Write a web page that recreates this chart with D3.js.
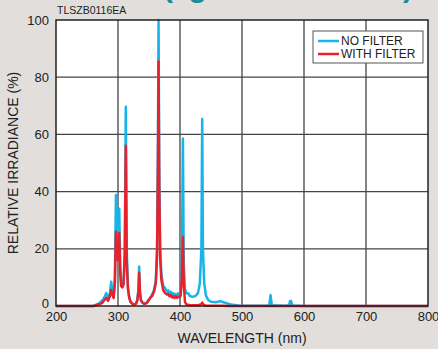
<!DOCTYPE html>
<html>
<head>
<meta charset="utf-8">
<script src="https://cdn.jsdelivr.net/npm/d3@7"></script>
<style>
  html, body { margin: 0; padding: 0; background: #e1dedb; }
  #chart { width: 438px; height: 349px; }
  text { font-family: "Liberation Sans", Arial, sans-serif; fill: #222; }
</style>
</head>
<body>
<div id="chart"></div>
<script>
// Spectrum samples (nm / % relative irradiance)
const wavelengths = [200, 260, 265, 270, 275, 278, 281, 284, 287, 289, 291, 293, 295, 296.7, 298, 300, 302, 303.5, 305, 307, 309, 311, 312.6, 314, 316, 318, 320, 323, 326, 329, 331, 333, 334.1, 335.5, 337, 340, 343, 346, 349, 352, 355, 358, 361, 363, 364.5, 365.4, 366.5, 368, 370, 373, 376, 379, 381, 383, 385, 387, 389, 391, 393, 395, 397, 399, 401, 403, 404.7, 406, 408, 410, 413, 416, 420, 425, 429, 432, 434.5, 435.8, 437, 439, 442, 446, 450, 458, 465, 470, 478, 485, 495, 520, 540, 544, 546.1, 548, 570, 576, 577.5, 579, 581, 600, 800];
const noFilter = [0, 0, 0.5, 1, 2, 3, 4.5, 2.8, 4.5, 8.5, 5, 4, 10, 38.8, 22, 20, 34, 15, 8, 6.7, 8, 20, 69.7, 20, 7, 3.3, 1.5, 0.8, 0.5, 0.8, 2, 6, 13.8, 5, 2, 1, 0.8, 1, 2, 3, 4, 5.5, 9, 20, 60, 100, 50, 20, 11, 7, 6.3, 5, 5.5, 4.5, 5, 3.8, 4.5, 3.6, 4.2, 3.7, 4.4, 3.8, 4.5, 12, 58.6, 15, 6, 4.5, 4.5, 3.5, 3.2, 3.5, 4.5, 8, 20, 65.4, 20, 8, 3.5, 2, 1.5, 1.3, 1.7, 1.3, 0.8, 0.4, 0.2, 0.1, 0.1, 0.3, 3.8, 0.3, 0.1, 0.3, 1.7, 1.8, 0.2, 0, 0];
const withFilter = [0, 0, 0.3, 0.6, 1.2, 2, 2.8, 1.8, 3.5, 5.6, 4, 2.8, 8, 26, 18, 16, 25.5, 12, 7, 6.5, 7.5, 18, 56, 16, 6, 3, 1.5, 0.8, 0.5, 0.8, 1.8, 5, 11.6, 4.5, 2, 1, 0.8, 1, 1.8, 2.8, 3.5, 5, 8, 18, 50, 85.5, 42, 17, 9, 5.5, 4.5, 4, 4.2, 3.4, 3.8, 3, 3.4, 2.8, 3.4, 2.9, 3.3, 3, 3.5, 10, 24, 8, 1.5, 0.6, 0.4, 0.3, 0.3, 0.3, 0.3, 0.4, 0.7, 1.2, 0.7, 0.3, 0.2, 0.1, 0.1, 0.1, 0.1, 0.1, 0, 0, 0, 0, 0, 0, 0, 0, 0, 0, 0, 0, 0, 0, 0];

const xTicks = [200, 300, 400, 500, 600, 700, 800];
const yTicks = [0, 20, 40, 60, 80, 100];
const seriesNames = ['NO FILTER', 'WITH FILTER'];
const seriesColors = ['#17b4e9', '#e8212b'];

const margin = { top: 20, right: 10, bottom: 43, left: 56 };
const W = 438, H = 349;
const width = W - margin.left - margin.right;
const height = H - margin.top - margin.bottom;

const svg = d3.select('#chart').append('svg')
    .attr('width', W)
    .attr('height', H);

// page title, cut off at the top edge (only its bottom shows)
svg.append('text')
    .attr('x', 163)
    .attr('y', -3)
    .attr('textLength', 250)
    .style('font-size', '30px')
    .style('font-weight', 'bold')
    .style('fill', '#1b8a9c')
    .text('(Hg Standard Source)');

svg.append('text')
    .attr('x', 57)
    .attr('y', 14)
    .style('font-size', '10.5px')
    .text('TLSZB0116EA');

const g = svg.append('g')
    .attr('transform', `translate(${margin.left},${margin.top})`);

const x = d3.scaleLinear().domain([200, 800]).range([0, width]);
const y = d3.scaleLinear().domain([0, 100]).range([height, 0]);

g.append('rect')
    .attr('width', width)
    .attr('height', height)
    .attr('fill', '#fff');

// grid
g.append('g')
    .selectAll('line')
    .data(xTicks.slice(1, -1))
    .join('line')
    .attr('x1', d => x(d)).attr('x2', d => x(d))
    .attr('y1', 0).attr('y2', height)
    .attr('stroke', '#444')
    .attr('stroke-width', 1.3);

g.append('g')
    .selectAll('line')
    .data(yTicks.slice(1, -1))
    .join('line')
    .attr('x1', 0).attr('x2', width)
    .attr('y1', d => y(d)).attr('y2', d => y(d))
    .attr('stroke', '#444')
    .attr('stroke-width', 1.3);

// axes (labels only)
const xAxis = g.append('g')
    .attr('transform', `translate(0,${height})`)
    .call(d3.axisBottom(x).tickValues(xTicks).tickSize(0).tickPadding(6));
const yAxis = g.append('g')
    .call(d3.axisLeft(y).tickValues(yTicks).tickSize(0).tickPadding(7));
[xAxis, yAxis].forEach(a => {
    a.select('.domain').remove();
    a.selectAll('text')
        .style('font-size', '13px')
        .style('font-family', '"Liberation Sans", Arial, sans-serif')
        .attr('fill', '#222');
});
yAxis.selectAll('.tick').filter(d => d === 0).select('text').attr('dy', '0.1em');

// lines
const data = wavelengths.map((w, i) => ({ w, a: noFilter[i], b: withFilter[i] }));
const lineA = d3.line().x(d => x(d.w)).y(d => y(d.a));
const lineB = d3.line().x(d => x(d.w)).y(d => y(d.b));

g.append('path')
    .datum(data)
    .attr('fill', 'none')
    .attr('stroke', seriesColors[0])
    .attr('stroke-width', 2.5)
    .attr('stroke-linejoin', 'round')
    .attr('d', lineA);

g.append('path')
    .datum(data)
    .attr('fill', 'none')
    .attr('stroke', seriesColors[1])
    .attr('stroke-width', 2.5)
    .attr('stroke-linejoin', 'round')
    .attr('d', lineB);

// frame
g.append('rect')
    .attr('width', width)
    .attr('height', height)
    .attr('fill', 'none')
    .attr('stroke', '#222')
    .attr('stroke-width', 1.5);

// legend
const legend = g.append('g')
    .attr('transform', `translate(${width - 115},11)`);
legend.append('rect')
    .attr('width', 110)
    .attr('height', 32)
    .attr('fill', '#fff')
    .attr('stroke', '#555')
    .attr('stroke-width', 1);
seriesNames.forEach((name, i) => {
    const row = legend.append('g')
        .attr('transform', `translate(5,${10 + i * 13})`);
    row.append('line')
        .attr('x1', 0).attr('x2', 21)
        .attr('stroke', seriesColors[i])
        .attr('stroke-width', 2.5);
    row.append('text')
        .attr('x', 23)
        .attr('dy', '0.35em')
        .style('font-size', '12px')
        .text(name);
});

// axis titles
svg.append('text')
    .attr('x', margin.left + width / 2)
    .attr('y', 343)
    .attr('text-anchor', 'middle')
    .style('font-size', '14px')
    .text('WAVELENGTH (nm)');

svg.append('text')
    .attr('transform', `translate(18,${margin.top + height / 2}) rotate(-90)`)
    .attr('text-anchor', 'middle')
    .style('font-size', '14px')
    .text('RELATIVE IRRADIANCE (%)');
</script>
</body>
</html>
